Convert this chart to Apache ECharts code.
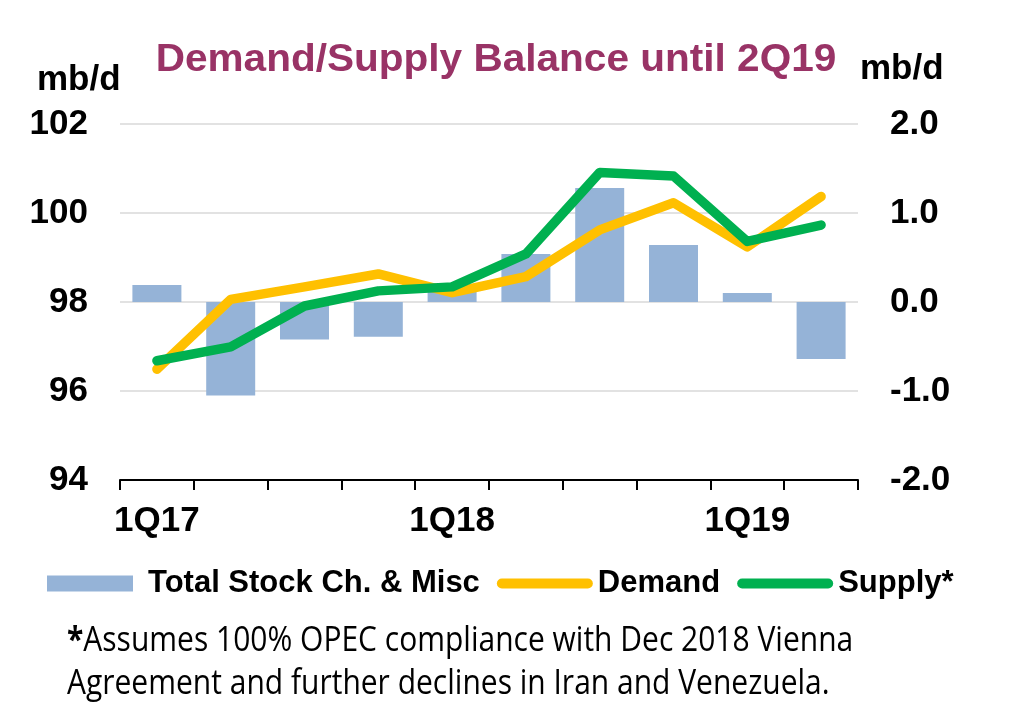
<!DOCTYPE html>
<html><head><meta charset="utf-8">
<script src="https://cdn.jsdelivr.net/npm/echarts@6/dist/echarts.min.js"></script>
<style>html,body{margin:0;padding:0;background:#fff}#c{width:1024px;height:726px}</style>
</head><body><div id="c"></div>
<script>
var categories = ['1Q17','2Q17','3Q17','4Q17','1Q18','2Q18','3Q18','4Q18','1Q19','2Q19'];
var stockChange = [0.19, -1.05, -0.42, -0.39, 0.15, 0.54, 1.28, 0.64, 0.10, -0.64];
var demand = [96.49, 98.06, 98.34, 98.63, 98.21, 98.57, 99.62, 100.23, 99.24, 100.37];
var supply = [96.68, 96.99, 97.91, 98.25, 98.34, 99.08, 100.91, 100.83, 99.36, 99.73];
var leftTicks = {min: 94, max: 102, interval: 2};
var rightTicks = {min: -2, max: 2, interval: 1};

var chart = echarts.init(document.getElementById('c'));
var bold = 'Arial, "Liberation Sans", sans-serif';
var barIcon = 'path://M0,0 M96,16 M0,0 L86,0 L86,16 L0,16 Z';
var lineIcon = 'path://M0,0 M96,16 M5,3 L91,3 A5,5 0 0 1 91,13 L5,13 A5,5 0 0 1 5,3 Z';
chart.setOption({
  animation: false,
  backgroundColor: '#fff',
  grid: {left: 120, right: 166, top: 124, bottom: 246},
  graphic: [
    {type: 'text', x: 496, y: 60, scaleX: 1.04,
     style: {text: 'Demand/Supply Balance until 2Q19', font: 'bold 39px ' + bold, fill: '#993366', align: 'center', verticalAlign: 'middle'}},
    {type: 'text', x: 37, y: 80,
     style: {text: 'mb/d', font: 'bold 35px ' + bold, fill: '#000', align: 'left', verticalAlign: 'middle'}},
    {type: 'text', x: 860, y: 69,
     style: {text: 'mb/d', font: 'bold 35px ' + bold, fill: '#000', align: 'left', verticalAlign: 'middle'}},
    {type: 'text', x: 67, y: 641, scaleY: 1.15,
     style: {text: '{b|*}Assumes 100% OPEC compliance with Dec 2018 Vienna', font: '30px "Open Sans", sans-serif', fill: '#000', verticalAlign: 'middle',
       rich: {b: {font: 'bold 30px "Open Sans", sans-serif', fill: '#000'}}}},
    {type: 'text', x: 67, y: 684, scaleY: 1.15,
     style: {text: 'Agreement and further declines in Iran and Venezuela.', font: '30px "Open Sans", sans-serif', fill: '#000', verticalAlign: 'middle'}}
  ],
  legend: {
    top: 563, left: 42,
    itemWidth: 96, itemHeight: 16, itemGap: 17,
    textStyle: {fontSize: 31, fontWeight: 'bold', fontFamily: bold, color: '#000'},
    data: [
      {name: 'Total Stock Ch. & Misc', icon: barIcon},
      {name: 'Demand', icon: lineIcon},
      {name: 'Supply*', icon: lineIcon}
    ]
  },
  xAxis: {
    type: 'category', data: categories,
    axisLine: {onZero: false, lineStyle: {color: '#000', width: 2}},
    axisTick: {show: true, interval: 0, length: 10, lineStyle: {color: '#000', width: 2}},
    axisLabel: {interval: 3, color: '#000', fontSize: 35, fontWeight: 'bold', fontFamily: bold, margin: 24}
  },
  yAxis: [
    {type: 'value', min: leftTicks.min, max: leftTicks.max, interval: leftTicks.interval,
     axisLine: {show: false}, axisTick: {show: false},
     axisLabel: {color: '#000', fontSize: 35, fontWeight: 'bold', fontFamily: bold, margin: 32},
     splitLine: {lineStyle: {color: '#d9d9d9', width: 1.5}}},
    {type: 'value', min: rightTicks.min, max: rightTicks.max, interval: rightTicks.interval,
     axisLine: {show: false}, axisTick: {show: false},
     axisLabel: {color: '#000', fontSize: 35, fontWeight: 'bold', fontFamily: bold, margin: 32,
       formatter: function (v) { return v.toFixed(1); }},
     splitLine: {show: false}}
  ],
  series: [
    {name: 'Total Stock Ch. & Misc', type: 'bar', yAxisIndex: 1, data: stockChange, barWidth: 49,
     itemStyle: {color: '#95B3D7'}},
    {name: 'Demand', type: 'line', yAxisIndex: 0, data: demand, symbol: 'none',
     lineStyle: {color: '#FFC000', width: 9.5, cap: 'round', join: 'round'}, itemStyle: {color: '#FFC000'}},
    {name: 'Supply*', type: 'line', yAxisIndex: 0, data: supply, symbol: 'none',
     lineStyle: {color: '#00B050', width: 9.5, cap: 'round', join: 'round'}, itemStyle: {color: '#00B050'}}
  ]
});
</script></body></html>
